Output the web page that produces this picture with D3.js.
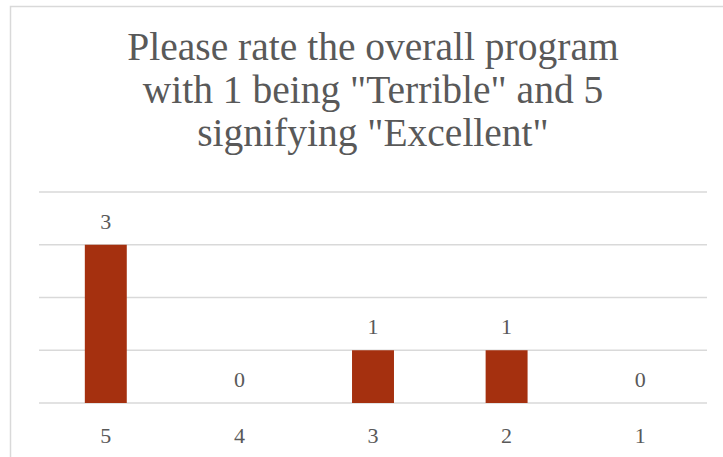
<!DOCTYPE html>
<html>
<head>
<meta charset="utf-8">
<script src="https://cdn.jsdelivr.net/npm/d3@7"></script>
<style>
  html, body { margin: 0; padding: 0; background: #fff; }
  svg { display: block; }
</style>
</head>
<body>
<script>
// Ratings (5 = Excellent ... 1 = Terrible) and response counts
const categories = ["5", "4", "3", "2", "1"];
const counts = [3, 0, 1, 1, 0];
const yTicks = [0, 1, 2, 3, 4];
const titleLines = [
  "Please rate the overall program",
  "with 1 being \"Terrible\" and 5",
  "signifying \"Excellent\""
];

const W = 723, H = 457;
const textColor = "#595959";
const gridColor = "#d9d9d9";
const barColor = "#a5300f";
const font = "'Liberation Serif', 'DejaVu Serif', serif";

const svg = d3.select("body").append("svg")
  .attr("width", W).attr("height", H);

// chart area frame
svg.append("rect")
  .attr("x", 10.5).attr("y", 6.5)
  .attr("width", 740).attr("height", 480)
  .attr("fill", "#fff")
  .attr("stroke", gridColor).attr("stroke-width", 1.5);

// title
svg.append("text")
  .attr("x", 373).attr("y", 60)
  .attr("text-anchor", "middle")
  .attr("fill", textColor)
  .style("font-family", font)
  .style("font-size", "39.5px")
  .selectAll("tspan").data(titleLines).join("tspan")
  .attr("x", 373)
  .attr("dy", (d, i) => i === 0 ? 0 : 43)
  .text(d => d);

const plot = { left: 39, right: 707, top: 192, bottom: 403 };

const x = d3.scaleBand().domain(categories)
  .range([plot.left, plot.right]).padding(0);
const y = d3.scaleLinear().domain([0, 4])
  .range([plot.bottom, plot.top]);

// horizontal gridlines
svg.append("g").selectAll("line").data(yTicks).join("line")
  .attr("x1", plot.left).attr("x2", plot.right)
  .attr("y1", d => y(d)).attr("y2", d => y(d))
  .attr("stroke", gridColor).attr("stroke-width", 1.5);

const barW = x.bandwidth() * 0.314;

// bars
svg.append("g").selectAll("rect").data(counts).join("rect")
  .attr("x", (d, i) => x(categories[i]) + x.bandwidth() / 2 - barW / 2)
  .attr("y", d => y(d))
  .attr("width", barW)
  .attr("height", d => y(0) - y(d))
  .attr("fill", barColor);

// value labels
svg.append("g").selectAll("text").data(counts).join("text")
  .attr("x", (d, i) => x(categories[i]) + x.bandwidth() / 2)
  .attr("y", d => y(d) - 16)
  .attr("text-anchor", "middle")
  .attr("fill", textColor)
  .style("font-family", font)
  .style("font-size", "22px")
  .text(d => d);

// category axis labels
svg.append("g").selectAll("text").data(categories).join("text")
  .attr("x", d => x(d) + x.bandwidth() / 2)
  .attr("y", plot.bottom + 40)
  .attr("text-anchor", "middle")
  .attr("fill", textColor)
  .style("font-family", font)
  .style("font-size", "22px")
  .text(d => d);
</script>
</body>
</html>
